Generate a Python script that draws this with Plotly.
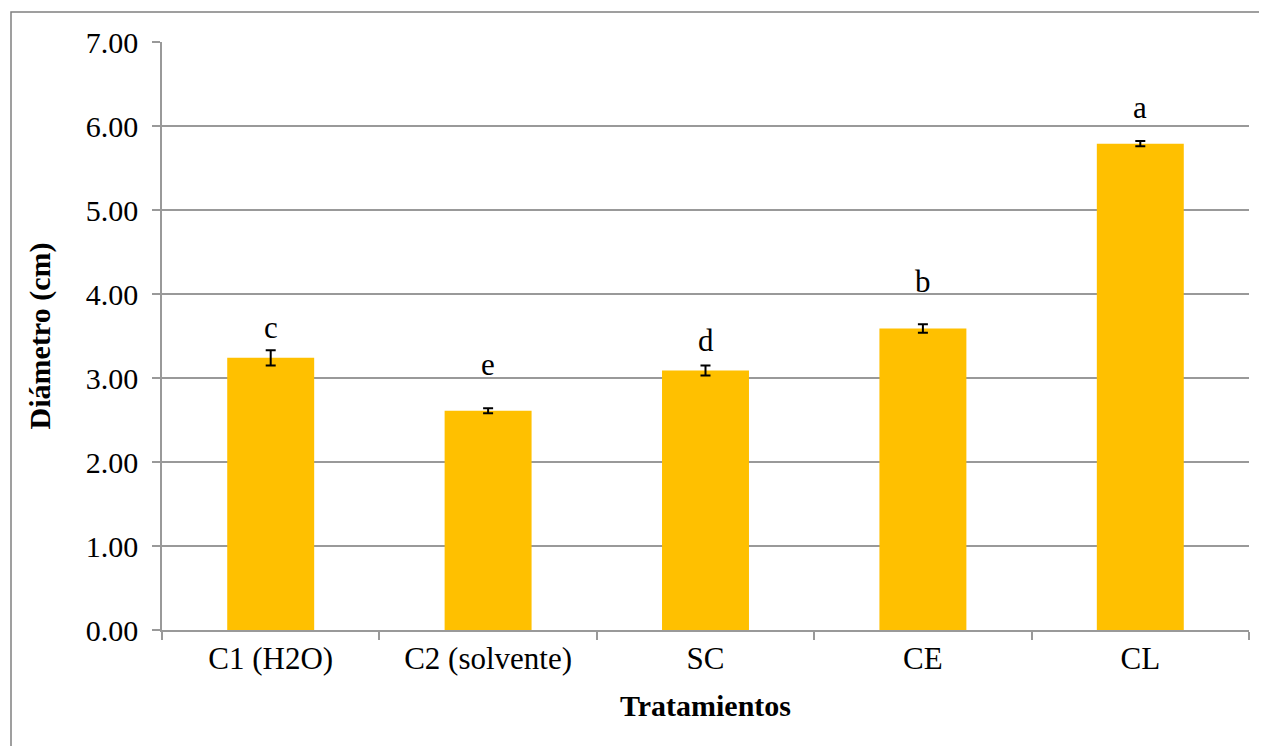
import plotly.graph_objects as go

categories = ["C1 (H2O)", "C2 (solvente)", "SC", "CE", "CL"]
values = [3.24, 2.61, 3.09, 3.59, 5.79]
errors = [0.09, 0.03, 0.06, 0.05, 0.03]
letters = ["c", "e", "d", "b", "a"]
letter_y = [3.46, 3.02, 3.31, 4.01, 6.08]  # baseline level of each significance letter
tick_vals = [0, 1, 2, 3, 4, 5, 6, 7]
tick_text = ["0.00", "1.00", "2.00", "3.00", "4.00", "5.00", "6.00", "7.00"]

OFF = 8  # page body margin
PAGE_W, PAGE_H = 1267, 746
W, H = PAGE_W - OFF, PAGE_H - OFF
PL, PR, PT, PB = 162, 1249, 42, 630  # plot area in page pixels
L, R, T, B = PL - OFF, PAGE_W - PR, PT - OFF, PAGE_H - PB
pw, ph = PR - PL, PB - PT

FONT = "Liberation Serif"

fig = go.Figure()
fig.add_trace(go.Bar(
    x=categories, y=values, width=0.4,
    marker=dict(color="#FFC000", line=dict(width=0)),
    error_y=dict(type="data", array=errors, visible=True, color="black",
                 thickness=2, width=5),
    hoverinfo="skip",
))

for c, ly, l in zip(categories, letter_y, letters):
    fig.add_annotation(x=c, y=ly, text=l, showarrow=False, yanchor="bottom",
                       yshift=-8, font=dict(family=FONT, size=31, color="black"))

def px_to_paper_x(p):
    return (p - PL) / pw

def px_to_paper_y(p):
    return 1 - (p - PT) / ph

fig.add_shape(type="rect", xref="paper", yref="paper",
              x0=px_to_paper_x(11), x1=px_to_paper_x(1266),
              y0=px_to_paper_y(800), y1=px_to_paper_y(12),
              line=dict(color="#808080", width=1.5), fillcolor="rgba(0,0,0,0)")

fig.update_layout(
    width=W, height=H,
    margin=dict(l=L, r=R, t=T, b=B, pad=0),
    plot_bgcolor="white", paper_bgcolor="white",
    showlegend=False,
    font=dict(family=FONT, size=31, color="black"),
    xaxis=dict(
        title=dict(text="<b>Tratamientos</b>", font=dict(family=FONT, size=30), standoff=20),
        tickfont=dict(family=FONT, size=31),
        showline=True, linecolor="#999999", linewidth=1.5,
        ticks="outside", tickson="boundaries", ticklen=8, tickcolor="#999999",
        tickwidth=1.5, showgrid=False,
    ),
    yaxis=dict(
        title=dict(text="<b>Diámetro (cm)</b>", font=dict(family=FONT, size=30), standoff=26),
        tickfont=dict(family=FONT, size=30),
        ticklabelstandoff=8,
        range=[0, 7], tickvals=tick_vals, ticktext=tick_text,
        showline=True, linecolor="#999999", linewidth=1.5,
        ticks="outside", ticklen=8, tickcolor="#999999", tickwidth=1.5,
        showgrid=True, gridcolor="#999999", gridwidth=1.5,
        zeroline=False,
    ),
)

fig.write_html("out.html")
